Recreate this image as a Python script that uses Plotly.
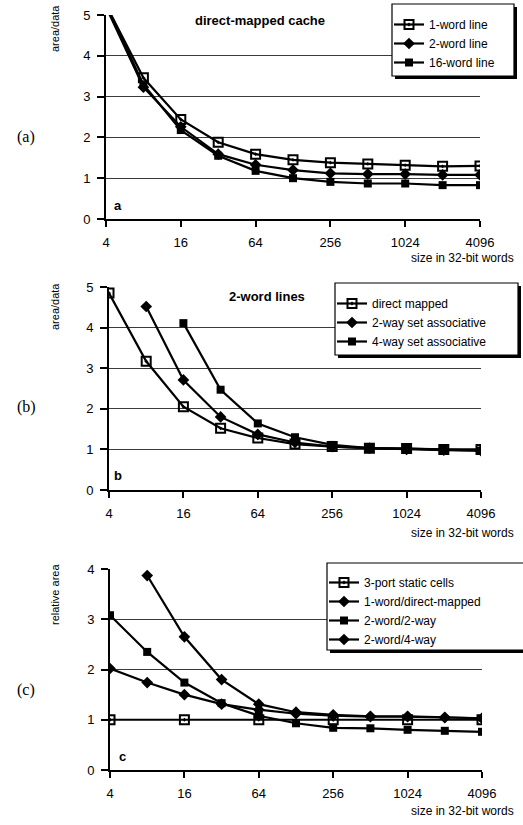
import plotly.graph_objects as go

W, H = 523, 825

# ---------------- data ----------------
sizes = [4, 8, 16, 32, 64, 128, 256, 512, 1024, 2048, 4096]
x_ticks = [4, 16, 64, 256, 1024, 4096]
x_ticklabels = ["4", "16", "64", "256", "1024", "4096"]

# (a) direct-mapped cache
a_1word = [5.25, 3.46, 2.44, 1.88, 1.59, 1.45, 1.38, 1.35, 1.32, 1.29, 1.30]
a_2word = [5.20, 3.23, 2.26, 1.59, 1.33, 1.20, 1.12, 1.10, 1.10, 1.08, 1.08]
a_16word = [5.25, 3.30, 2.18, 1.55, 1.18, 1.00, 0.91, 0.87, 0.87, 0.83, 0.83]

# (b) 2-word lines
b_direct = [4.85, 3.17, 2.05, 1.52, 1.28, 1.13, 1.07, 1.03, 1.02, 1.00, 1.00]
b_2way = [None, 4.52, 2.71, 1.80, 1.37, 1.17, 1.07, 1.03, 1.00, 0.98, 0.97]
b_4way = [None, None, 4.11, 2.47, 1.64, 1.30, 1.11, 1.03, 1.02, 1.00, 0.97]

# (c) relative area
c_3port_sizes = [4, 16, 64, 256, 1024, 4096]
c_3port = [1.0, 1.0, 1.0, 1.0, 1.0, 1.0]
c_1word_dm = [None, 3.87, 2.65, 1.80, 1.31, 1.15, 1.10, 1.07, 1.07, 1.05, 1.03]
c_2word_2way = [3.08, 2.35, 1.74, 1.33, 1.08, 0.93, 0.84, 0.83, 0.80, 0.78, 0.76]
c_2word_4way = [2.02, 1.74, 1.50, 1.31, 1.20, 1.12, 1.08, 1.06, 1.06, 1.04, 1.03]


def fx(px):
    return px / W


def fy(py):
    return 1 - py / H


FONT = "Liberation Sans, Arial, sans-serif"
SERIF = "Liberation Serif, Times New Roman, serif"

OPEN_SQ = dict(symbol="square-open-dot", size=9, color="black", line=dict(width=2, color="black"))
DIAMOND = dict(symbol="diamond", size=9, color="black", line=dict(width=0))
SQUARE = dict(symbol="square", size=8, color="black", line=dict(width=0))
LINE = dict(color="black", width=2.2)

fig = go.Figure()


def add(x, y, name, marker, xa, ya, legend):
    fig.add_trace(go.Scatter(
        x=x, y=y, name=name, mode="lines+markers", marker=marker, line=LINE,
        xaxis=xa, yaxis=ya, legend=legend, connectgaps=False))


# panel a
add(sizes, a_1word, "1-word line", OPEN_SQ, "x", "y", "legend")
add(sizes, a_2word, "2-word line", DIAMOND, "x", "y", "legend")
add(sizes, a_16word, "16-word line", SQUARE, "x", "y", "legend")
# panel b
add(sizes, b_direct, "direct mapped", OPEN_SQ, "x2", "y2", "legend2")
add(sizes, b_2way, "2-way set associative", DIAMOND, "x2", "y2", "legend2")
add(sizes, b_4way, "4-way set associative", SQUARE, "x2", "y2", "legend2")
# panel c
add(c_3port_sizes, c_3port, "3-port static cells", OPEN_SQ, "x3", "y3", "legend3")
add(sizes, c_1word_dm, "1-word/direct-mapped", DIAMOND, "x3", "y3", "legend3")
add(sizes, c_2word_2way, "2-word/2-way", SQUARE, "x3", "y3", "legend3")
add(sizes, c_2word_4way, "2-word/4-way", DIAMOND, "x3", "y3", "legend3")

# panel geometry in pixels
panels = [
    dict(xl=106, xr=480, yt=15, yb=219, ymax=5),
    dict(xl=109, xr=481, yt=287, yb=490, ymax=5),
    dict(xl=110, xr=482, yt=569, yb=770, ymax=4),
]

axis_common_x = dict(
    type="log", range=[0.60206, 3.61236], tickvals=x_ticks, ticktext=x_ticklabels,
    showgrid=False, zeroline=False, showline=True, linecolor="black", linewidth=2,
    ticks="outside", ticklen=6, tickwidth=2, tickcolor="black", automargin=False,
    tickfont=dict(family=FONT, size=13, color="black"), ticklabelstandoff=4,
)
axis_common_y = dict(
    showgrid=True, gridcolor="#3a3a3a", gridwidth=1, zeroline=False,
    showline=True, linecolor="black", linewidth=2, automargin=False,
    ticks="outside", ticklen=7, tickwidth=2, tickcolor="black", dtick=1,
    tickfont=dict(family=FONT, size=13, color="black"), ticklabelstandoff=4,
)

layout = {}
for i, p in enumerate(panels):
    sx = "" if i == 0 else str(i + 1)
    layout["xaxis" + sx] = dict(axis_common_x, domain=[fx(p["xl"]), fx(p["xr"])],
                                anchor="y" + sx)
    layout["yaxis" + sx] = dict(axis_common_y, domain=[fy(p["yb"]), fy(p["yt"])],
                                range=[0, p["ymax"]], anchor="x" + sx,
                                tickvals=list(range(0, p["ymax"] + 1)))
fig.update_layout(**layout)

# legend boxes (pixels): left, top, right, bottom
boxes = [(392, 4, 514, 76), (335, 283, 518, 355), (327, 563, 526, 650)]
legend_offsets = [6, 6, 5]
legend_names = ["legend", "legend2", "legend3"]
shapes = []
for (l, t, r, b) in boxes:
    shapes.append(dict(type="rect", xref="paper", yref="paper", layer="above",
                       x0=fx(l + 3), x1=fx(r + 3), y0=fy(b + 3), y1=fy(t + 3),
                       fillcolor="black", line=dict(width=0)))
    shapes.append(dict(type="rect", xref="paper", yref="paper", layer="above",
                       x0=fx(l), x1=fx(r), y0=fy(b), y1=fy(t),
                       fillcolor="white", line=dict(width=1.2, color="black")))
fig.update_layout(shapes=shapes)

for name, (l, t, r, b), off in zip(legend_names, boxes, legend_offsets):
    fig.update_layout(**{name: dict(
        x=fx(l - 3), y=fy(t + off), xanchor="left", yanchor="top",
        bgcolor="rgba(0,0,0,0)", borderwidth=0,
        font=dict(family=FONT, size=12, color="black"),
        itemwidth=30, tracegroupgap=0, itemclick=False)})

ann = []


def text(x, y, s, size=12, xanchor="center", yanchor="middle", family=FONT, angle=0):
    ann.append(dict(x=fx(x), y=fy(y), xref="paper", yref="paper", text=s, showarrow=False,
                    xanchor=xanchor, yanchor=yanchor, textangle=angle,
                    font=dict(family=family, size=size, color="black")))


# titles inside plots
text(260, 20, "<b>direct-mapped cache</b>", size=13)
text(267, 296, "<b>2-word lines</b>", size=13)
# panel letters
text(112, 205, "<b>a</b>", size=13, xanchor="left")
text(112, 475, "<b>b</b>", size=13, xanchor="left")
text(117, 756, "<b>c</b>", size=13, xanchor="left")
# y titles
text(55, 29, "area/data", size=11, angle=-90)
text(55, 307, "area/data", size=11, angle=-90)
text(55, 595, "relative area", size=11, angle=-90)
# x titles
text(516, 258, "size in 32-bit words", size=12, xanchor="right")
text(516, 533, "size in 32-bit words", size=12, xanchor="right")
text(516, 811, "size in 32-bit words", size=12, xanchor="right")
# side labels
text(26, 137, "(a)", size=16, family=SERIF)
text(26, 407, "(b)", size=16, family=SERIF)
text(26, 690, "(c)", size=16, family=SERIF)

fig.update_layout(
    annotations=ann,
    width=W, height=H,
    margin=dict(l=0, r=0, t=0, b=0, autoexpand=False),
    paper_bgcolor="white", plot_bgcolor="white",
    showlegend=True,
    font=dict(family=FONT, color="black"),
)

fig.write_html("out.html", config={"displayModeBar": False},
               post_script="document.body.style.margin='0';")
